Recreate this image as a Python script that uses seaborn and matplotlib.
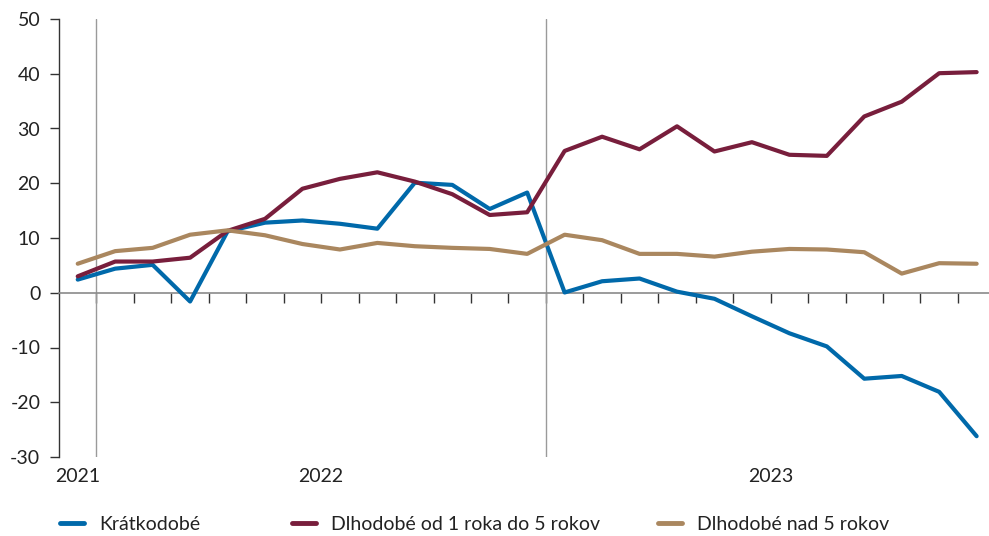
import matplotlib
matplotlib.use("Agg")
import matplotlib.pyplot as plt
from matplotlib.lines import Line2D
import numpy as np
import pandas as pd
import seaborn as sns

# Monthly values, December 2021 through December 2023
kratkodobe = [2.4, 4.4, 5.1, -1.6, 11.2, 12.8, 13.2, 12.6, 11.7, 20.1, 19.7, 15.3, 18.3,
              0.05, 2.1, 2.6, 0.2, -1.1, -4.3, -7.4, -9.8, -15.7, -15.2, -18.1, -26.2]
dlhodobe_1_5 = [3.0, 5.7, 5.7, 6.4, 11.3, 13.5, 19.0, 20.8, 22.0, 20.3, 18.0, 14.2, 14.7,
                25.9, 28.5, 26.2, 30.4, 25.8, 27.5, 25.2, 25.0, 32.2, 34.9, 40.1, 40.3]
dlhodobe_nad_5 = [5.3, 7.6, 8.2, 10.6, 11.4, 10.5, 8.9, 7.9, 9.1, 8.5, 8.2, 8.0, 7.1,
                  10.6, 9.6, 7.1, 7.1, 6.6, 7.5, 8.0, 7.9, 7.4, 3.5, 5.4, 5.3]

series_names = ["Krátkodobé", "Dlhodobé od 1 roka do 5 rokov", "Dlhodobé nad 5 rokov"]
series_colors = ["#0069AA", "#781E3C", "#AA875F"]
year_labels = ["2021", "2022", "2023"]
y_ticks = [-30, -20, -10, 0, 10, 20, 30, 40, 50]

n = len(kratkodobe)
months = np.arange(n)
df = pd.DataFrame({
    "mesiac": np.tile(months, 3),
    "hodnota": kratkodobe + dlhodobe_1_5 + dlhodobe_nad_5,
    "séria": np.repeat(series_names, n),
})

sns.set_theme(style="white")
plt.rcParams["font.family"] = ["Lato", "DejaVu Sans"]
plt.rcParams["text.color"] = "#222222"

FS = 14
W, H = 989, 536
fig = plt.figure(figsize=(W / 100, H / 100), dpi=100)
ax = fig.add_axes([59 / W, 1 - 457 / H, (W - 59) / W, 438 / H])

sns.lineplot(data=df, x="mesiac", y="hodnota", hue="séria",
             palette=dict(zip(series_names, series_colors)),
             linewidth=3, ax=ax, legend=False, zorder=3)

ax.set_xlim(-0.5, 24.33)
ax.set_ylim(-30, 50)

# Year separators
for xv in (0.5, 12.5):
    ax.axvline(xv, color="#9a9a9a", lw=1.0, zorder=1)

# Left axis
ax.set_yticks(y_ticks)
ax.set_yticklabels([str(v) for v in y_ticks])
ax.tick_params(axis="y", direction="out", length=6.5, width=1, color="#333333",
               labelsize=FS, labelcolor="#222222", pad=7, left=True)
ax.spines["left"].set_color("#333333")
ax.spines["left"].set_linewidth(1)
for side in ("top", "right"):
    ax.spines[side].set_visible(False)

# Zero line carries the month ticks
ax.spines["bottom"].set_position(("data", 0))
ax.spines["bottom"].set_color("#8a8a8a")
ax.spines["bottom"].set_linewidth(1.2)
ax.set_xticks(np.arange(n - 1) + 0.5)
ax.set_xticklabels([])
ax.tick_params(axis="x", direction="out", length=7.5, width=1, color="#333333", bottom=True)
ax.set_xlabel("")
ax.set_ylabel("")

# Year labels under the plot
for lbl, xv in zip(year_labels, (0, 6.5, 18.5)):
    ax.text(xv, -0.025, lbl, transform=ax.get_xaxis_transform(), ha="center", va="top",
            fontsize=FS, color="#222222")

# Legend entries placed along the bottom
legend_x = [60, 292, 658]
for name, color, px in zip(series_names, series_colors, legend_x):
    h = Line2D([], [], color=color, lw=3.5, solid_capstyle="round")
    leg = fig.legend([h], [name], loc="center left", bbox_to_anchor=(px / W, 1 - 524 / H),
                     frameon=False, fontsize=FS, handlelength=1.25, handletextpad=0.75,
                     borderpad=0, borderaxespad=0)
    for t in leg.get_texts():
        t.set_color("#222222")

fig.savefig("out.png", dpi=100)
